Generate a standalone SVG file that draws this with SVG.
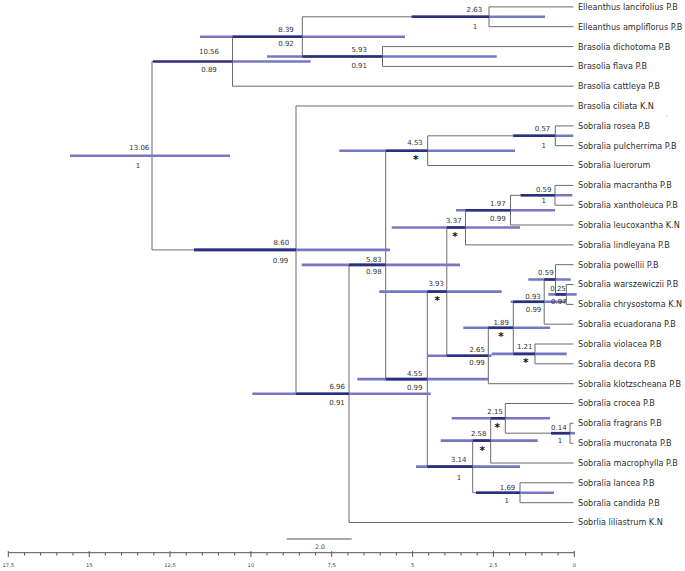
<svg xmlns="http://www.w3.org/2000/svg" width="685" height="571" viewBox="0 0 685 571">
<style>
.br{stroke:#6b6b6b;stroke-width:1;fill:none}
.hl{stroke:#7478c2;stroke-width:2.6;fill:none}
.hd{stroke:#2c2f7d;stroke-width:2.6;fill:none}
.lab{font-family:"DejaVu Sans",Verdana,sans-serif;font-size:7px;fill:#333;text-anchor:middle}
.st{font-family:"DejaVu Sans",sans-serif;font-size:10.5px;font-weight:bold;fill:#111;text-anchor:middle}
.tip{font-family:"DejaVu Sans",Verdana,sans-serif;font-size:8.1px;fill:#2e2e2e;white-space:pre}
.ax{stroke:#555;stroke-width:1;fill:none}
.tl{font-family:"DejaVu Sans",sans-serif;font-size:5.2px;fill:#444;text-anchor:middle}
</style>
<rect width="685" height="571" fill="#fff"/>
<g id="connectors" class="br">
<path d="M152 61.5V249.9M152 61.5H232.5M152 249.9H296"/>
<path d="M232.5 36.7V86.2M232.5 36.7H302.3M232.5 86.2H573.5"/>
<path d="M302.3 16.8V56.5M302.3 16.8H489M302.3 56.5H382.5"/>
<path d="M489 6.9V26.7M489 6.9H573.5M489 26.7H573.5"/>
<path d="M382.5 46.6V66.4M382.5 46.6H573.5M382.5 66.4H573.5"/>
<path d="M296 106V393.7M296 106H573.5M296 393.7H349"/>
<path d="M349 264.9V522.5M349 264.9H385.7M349 522.5H573.5"/>
<path d="M385.7 150.7V379.1M385.7 150.7H427.7M385.7 379.1H427.3"/>
<path d="M427.7 135.8V165.5M427.7 135.8H555.3M427.7 165.5H573.5"/>
<path d="M555.3 125.9V145.7M555.3 125.9H573.5M555.3 145.7H573.5"/>
<path d="M427.3 291.6V466.6M427.3 291.6H446.8M427.3 466.6H472.7"/>
<path d="M446.8 227.5V355.7M446.8 227.5H465.5M446.8 355.7H488.3"/>
<path d="M465.5 210.2V244.9M465.5 210.2H510.5M465.5 244.9H573.5"/>
<path d="M510.5 195.3V225M510.5 195.3H555M510.5 225H573.5"/>
<path d="M555 185.4V205.2M555 185.4H573.5M555 205.2H573.5"/>
<path d="M488.3 327.8V383.7M488.3 327.8H513.3M488.3 383.7H573.5"/>
<path d="M513.3 301.8V353.9M513.3 301.8H544.2M513.3 353.9H535"/>
<path d="M544.2 279.5V324.2M544.2 279.5H555.5M544.2 324.2H573.5"/>
<path d="M555.5 264.7V294.4M555.5 264.7H573.5M555.5 294.4H566.3"/>
<path d="M566.3 284.5V304.4M566.3 284.5H573.5M566.3 304.4H573.5"/>
<path d="M535 344V363.8M535 344H573.5M535 363.8H573.5"/>
<path d="M472.7 440.6V492.7M472.7 440.6H490.7M472.7 492.7H520"/>
<path d="M490.7 418.3V463M490.7 418.3H505.3M490.7 463H573.5"/>
<path d="M505.3 403.5V433.2M505.3 403.5H573.5M505.3 433.2H570"/>
<path d="M570 423.3V443.2M570 423.3H573.5M570 443.2H573.5"/>
<path d="M520 482.8V502.7M520 482.8H573.5M520 502.7H573.5"/>
</g>
<g id="n13_06"><path class="hl" d="M70 155.7H230"/><text class="lab" x="139.3" y="150.2">13.06</text><text class="lab" x="138" y="167.5">1</text></g>
<g id="n10_56"><path class="hl" d="M232.5 61.5H310.7"/><path class="hd" d="M153 61.5H232.5"/><text class="lab" x="209" y="54.2">10.56</text><text class="lab" x="209" y="71.5">0.89</text></g>
<g id="n8_39"><path class="hl" d="M200 36.7H405"/><path class="hd" d="M232.5 36.7H302.3"/><text class="lab" x="286" y="31.5">8.39</text><text class="lab" x="286" y="46.2">0.92</text></g>
<g id="n2_63"><path class="hl" d="M411.7 16.8H545"/><path class="hd" d="M411.7 16.8H489"/><text class="lab" x="474.3" y="11.5">2.63</text><text class="lab" x="475" y="29.2">1</text></g>
<g id="n5_93"><path class="hl" d="M267 56.5H496.7"/><path class="hd" d="M302.3 56.5H382.5"/><text class="lab" x="359.2" y="51.5">5.93</text><text class="lab" x="359.2" y="67.5">0.91</text></g>
<g id="n8_60"><path class="hl" d="M194 249.9H390"/><path class="hd" d="M194 249.9H296"/><text class="lab" x="281.3" y="244.8">8.60</text><text class="lab" x="280.5" y="262.5">0.99</text></g>
<g id="n6_96"><path class="hl" d="M252.3 393.7H430.7"/><path class="hd" d="M296 393.7H349"/><text class="lab" x="337.2" y="389.2">6.96</text><text class="lab" x="337" y="405.2">0.91</text></g>
<g id="n5_83"><path class="hl" d="M301.7 264.9H460"/><path class="hd" d="M349 264.9H385.7"/><text class="lab" x="373.8" y="261.8">5.83</text><text class="lab" x="373.8" y="274.2">0.98</text></g>
<g id="n4_53"><path class="hl" d="M339.3 150.7H515"/><path class="hd" d="M385.7 150.7H427.7"/><text class="lab" x="415" y="145.2">4.53</text><text class="st" x="415.7" y="163">*</text></g>
<g id="n0_57"><path class="hl" d="M513.3 135.8H573.3"/><path class="hd" d="M513.3 135.8H555.3"/><text class="lab" x="542.5" y="130.8">0.57</text><text class="lab" x="543.7" y="148.2">1</text></g>
<g id="n3_37"><path class="hl" d="M391.7 227.5H520"/><path class="hd" d="M446.8 227.5H465.5"/><text class="lab" x="453.8" y="222.5">3.37</text><text class="st" x="455" y="240.3">*</text></g>
<g id="n1_97"><path class="hl" d="M456 210.2H555"/><path class="hd" d="M465.5 210.2H510.5"/><text class="lab" x="497.8" y="205.8">1.97</text><text class="lab" x="497.8" y="220.8">0.99</text></g>
<g id="n0_59a"><path class="hl" d="M520.7 195.3H572.3"/><path class="hd" d="M520.7 195.3H555"/><text class="lab" x="543.7" y="191.5">0.59</text><text class="lab" x="543.7" y="203">1</text></g>
<g id="n3_93"><path class="hl" d="M379.3 291.6H501.7"/><path class="hd" d="M427.3 291.6H446.8"/><text class="lab" x="436.2" y="285.8">3.93</text><text class="st" x="437.3" y="303.6">*</text></g>
<g id="n2_65"><path class="hl" d="M427.7 355.7H491.7"/><path class="hd" d="M446.8 355.7H488.3"/><text class="lab" x="477.2" y="351.8">2.65</text><text class="lab" x="477" y="365.2">0.99</text></g>
<g id="n1_89"><path class="hl" d="M463.3 327.8H550"/><path class="hd" d="M488.3 327.8H513.3"/><text class="lab" x="501.2" y="324.8">1.89</text><text class="st" x="501" y="339.6">*</text></g>
<g id="n0_93"><path class="hl" d="M510.7 301.8H566"/><path class="hd" d="M513.3 301.8H544.2"/><text class="lab" x="533" y="299.2">0.93</text><text class="lab" x="533.5" y="311.5">0.99</text></g>
<g id="n0_59b"><path class="hl" d="M528.3 279.5H570.7"/><path class="hd" d="M544.2 279.5H555.5"/><text class="lab" x="545.8" y="275">0.59</text></g>
<g id="n0_25"><path class="hl" d="M548.3 294.4H576.7"/><path class="hd" d="M555.5 294.4H566.3"/><text class="lab" x="558" y="290.8">0.25</text><text class="lab" x="558.8" y="303.5">0.97</text></g>
<g id="n1_21"><path class="hl" d="M491.7 353.9H566.7"/><path class="hd" d="M513.3 353.9H535"/><text class="lab" x="524.7" y="348.5">1.21</text><text class="st" x="525.7" y="366">*</text></g>
<g id="n4_55"><path class="hl" d="M357.3 379.1H488.3"/><path class="hd" d="M385.7 379.1H427.3"/><text class="lab" x="414.7" y="375.8">4.55</text><text class="lab" x="414.7" y="389.8">0.99</text></g>
<g id="n3_14"><path class="hl" d="M416 466.6H520"/><path class="hd" d="M427.3 466.6H472.7"/><text class="lab" x="458.7" y="461.8">3.14</text><text class="lab" x="459" y="479.8">1</text></g>
<g id="n2_58"><path class="hl" d="M440.7 440.6H537.7"/><path class="hd" d="M472.7 440.6H490.7"/><text class="lab" x="478.7" y="435.8">2.58</text><text class="st" x="482.3" y="453.6">*</text></g>
<g id="n2_15"><path class="hl" d="M451.7 418.3H550"/><path class="hd" d="M490.7 418.3H505.3"/><text class="lab" x="495" y="413.5">2.15</text><text class="st" x="497.3" y="431.3">*</text></g>
<g id="n0_14"><path class="hl" d="M551 433.2H575"/><path class="hd" d="M551 433.2H570"/><text class="lab" x="558.8" y="429.8">0.14</text><text class="lab" x="560" y="443">1</text></g>
<g id="n1_69"><path class="hl" d="M476 492.7H554"/><path class="hd" d="M476 492.7H520"/><text class="lab" x="507.5" y="489.8">1.69</text><text class="lab" x="506.7" y="503.2">1</text></g>
<g id="tips" class="tip">
<text x="578" y="9.8">Elleanthus lancifolius P.B</text>
<text x="578" y="29.6">Elleanthus ampliflorus P.B</text>
<text x="578" y="49.5">Brasolia dichotoma P.B</text>
<text x="578" y="69.3">Brasolia flava P.B</text>
<text x="578" y="89.1">Brasolia cattleya P.B</text>
<text x="578" y="109">Brasolia ciliata K.N</text>
<text x="578" y="128.8">Sobralia rosea P.B</text>
<text x="578" y="148.6">Sobralia pulcherrima P.B</text>
<text x="578" y="168.4">Sobralia luerorum</text>
<text x="578" y="188.3">Sobralia macrantha P.B</text>
<text x="578" y="208.1">Sobralia xantholeuca P.B</text>
<text x="578" y="227.9">Sobralia leucoxantha K.N</text>
<text x="578" y="247.8">Sobralia lindleyana P.B</text>
<text x="578" y="267.6">Sobralia powellii  P.B</text>
<text x="578" y="287.4">Sobralia warszewiczii  P.B</text>
<text x="578" y="307.3">Sobralia chrysostoma K.N</text>
<text x="578" y="327.1">Sobralia ecuadorana  P.B</text>
<text x="578" y="346.9">Sobralia violacea  P.B</text>
<text x="578" y="366.7">Sobralia decora  P.B</text>
<text x="578" y="386.6">Sobralia klotzscheana  P.B</text>
<text x="578" y="406.4">Sobralia crocea P.B</text>
<text x="578" y="426.2">Sobralia fragrans P.B</text>
<text x="578" y="446.1">Sobralia mucronata P.B</text>
<text x="578" y="465.9">Sobralia macrophylla P.B</text>
<text x="578" y="485.7">Sobralia lancea P.B</text>
<text x="578" y="505.6">Sobralia candida P.B</text>
<text x="578" y="525.4">Sobrlia liliastrum K.N</text>
</g>
<circle cx="666.7" cy="116" r="0.6" fill="#999"/>
<g id="scale">
<path class="ax" d="M286.7 539H351.7"/>
<text x="320" y="549" style="font-family:'DejaVu Sans',sans-serif;font-size:6.3px;fill:#444;text-anchor:middle">2.0</text>
</g>
<g id="axis">
<path class="ax" d="M8.3 552.7H574.3"/>
<path class="ax" d="M8.3 551V557M24.5 552.7V555.5M40.6 552.7V555.5M56.8 552.7V555.5M73 552.7V555.5M89.2 551V557M105.3 552.7V555.5M121.5 552.7V555.5M137.7 552.7V555.5M153.8 552.7V555.5M170 551V557M186.2 552.7V555.5M202.3 552.7V555.5M218.5 552.7V555.5M234.7 552.7V555.5M250.9 551V557M267 552.7V555.5M283.2 552.7V555.5M299.4 552.7V555.5M315.5 552.7V555.5M331.7 551V557M347.9 552.7V555.5M364 552.7V555.5M380.2 552.7V555.5M396.4 552.7V555.5M412.6 551V557M428.7 552.7V555.5M444.9 552.7V555.5M461.1 552.7V555.5M477.2 552.7V555.5M493.4 551V557M509.6 552.7V555.5M525.7 552.7V555.5M541.9 552.7V555.5M558.1 552.7V555.5M574.3 551V557"/>
<text class="tl" x="8.3" y="566.5">17,5</text>
<text class="tl" x="89.2" y="566.5">15</text>
<text class="tl" x="170" y="566.5">12,5</text>
<text class="tl" x="250.9" y="566.5">10</text>
<text class="tl" x="331.7" y="566.5">7,5</text>
<text class="tl" x="412.6" y="566.5">5</text>
<text class="tl" x="493.4" y="566.5">2,5</text>
<text class="tl" x="574.3" y="566.5">0</text>
</g>
</svg>
